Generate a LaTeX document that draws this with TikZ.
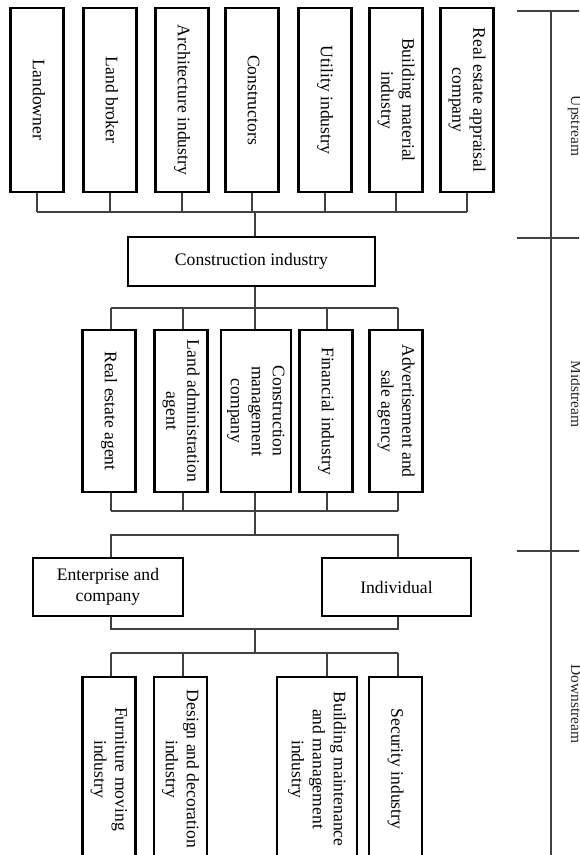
\documentclass[tikz,border=0pt]{standalone}
\usepackage{fontspec}
\setmainfont{Liberation Serif}
\newcommand\vtxt[1]{\rotatebox[origin=c]{-90}{\begin{tabular}{@{}c@{}}#1\end{tabular}}}
\newcommand\htxt[1]{\begin{tabular}{@{}c@{}}#1\end{tabular}}
\tikzset{
  box/.style={draw=black, line width=2.2pt, fill=white, inner sep=0pt, rectangle,
    font=\fontsize{17.6}{21}\selectfont},
  conn/.style={draw=black!75, line width=1.1pt},
  side/.style={rotate=-90, anchor=base, inner sep=0pt, text=black!85,
    font=\fontsize{15.5}{18}\selectfont},
}
\begin{document}
\begin{tikzpicture}[x=1pt,y=-1pt]
\useasboundingbox (0,0) rectangle (579,855);
\clip (0,0) rectangle (579,855);
% top row
\node[box, minimum width=53pt, minimum height=184pt] (t1) at (37,100) {\vtxt{Landowner}};
\node[box, minimum width=53pt, minimum height=184pt] (t2) at (110,100) {\vtxt{Land broker}};
\node[box, minimum width=53pt, minimum height=184pt] (t3) at (182,100) {\vtxt{Architecture industry}};
\node[box, minimum width=53pt, minimum height=184pt] (t4) at (252,100) {\vtxt{Constructors}};
\node[box, minimum width=53pt, minimum height=184pt] (t5) at (325,100) {\vtxt{Utility industry}};
\node[box, minimum width=53pt, minimum height=184pt] (t6) at (396,100) {\vtxt{Building material\\industry}};
\node[box, minimum width=53pt, minimum height=184pt] (t7) at (467,100) {\vtxt{Real estate appraisal\\company}};
% construction industry
\node[box, minimum width=247pt, minimum height=49pt] (ci) at (251.5,261.5) {Construction industry};
% middle row
\node[box, minimum width=53pt, minimum height=162pt] (m1) at (109,411) {\vtxt{Real estate agent}};
\node[box, minimum width=53pt, minimum height=162pt] (m2) at (181,411) {\vtxt{Land administration\\agent}};
\node[box, minimum width=70pt, minimum height=162pt] (m3) at (256,411) {\vtxt{Construction\\management\\company}};
\node[box, minimum width=53pt, minimum height=162pt] (m4) at (326,411) {\vtxt{Financial industry}};
\node[box, minimum width=53pt, minimum height=162pt] (m5) at (396,411) {\vtxt{Advertisement and\\sale agency}};
% customers
\node[box, minimum width=150pt, minimum height=58pt] (ent) at (108,587) {\htxt{Enterprise and\\company}};
\node[box, minimum width=149pt, minimum height=58pt] (ind) at (396.5,587) {Individual};
% bottom row
\node[box, minimum width=53pt, minimum height=184pt] (b1) at (109,769) {\vtxt{Furniture moving\\industry}};
\node[box, minimum width=53pt, minimum height=184pt] (b2) at (180.5,769) {\vtxt{Design and decoration\\industry}};
\node[box, minimum width=80pt, minimum height=184pt] (b3) at (317,769) {\vtxt{Building maintenance\\and management\\industry}};
\node[box, minimum width=53pt, minimum height=184pt] (b4) at (395.5,769) {\vtxt{Security industry}};
% bus coordinates
\coordinate (busA) at (255,212);
\coordinate (busB) at (255,308);
\coordinate (busC) at (255,511);
\coordinate (busD) at (255,535);
\coordinate (busE) at (255,629);
\coordinate (busF) at (255,653);
% top bus
\foreach \n in {t1,t2,t3,t4,t5,t6,t7} \draw[conn] (\n.south) -- (\n.south |- busA);
\draw[conn] (t1.south |- busA) -- (t7.south |- busA);
\draw[conn] (busA) -- (busA |- ci.north);
% middle bus
\draw[conn] (ci.south -| busB) -- (busB);
\coordinate (mL) at (111,308);
\coordinate (mR) at (398,308);
\draw[conn] (mL) -- (mR);
\draw[conn] (mL) -- (mL |- m1.north);
\draw[conn] (183,308) coordinate (s2) -- (s2 |- m2.north);
\draw[conn] (busB) -- (busB |- m3.north);
\draw[conn] (327,308) coordinate (s4) -- (s4 |- m4.north);
\draw[conn] (mR) -- (mR |- m5.north);
% below middle
\coordinate (cL) at (111,511);
\coordinate (cR) at (398,511);
\draw[conn] (cL) -- (cR);
\draw[conn] (cL |- m1.south) -- (cL);
\draw[conn] (183,511) coordinate (u2) (u2 |- m2.south) -- (u2);
\draw[conn] (busC |- m3.south) -- (busC);
\draw[conn] (327,511) coordinate (u4) (u4 |- m4.south) -- (u4);
\draw[conn] (cR |- m5.south) -- (cR);
\draw[conn] (busC) -- (busD);
% customers
\coordinate (dL) at (111,535);
\coordinate (dR) at (398,535);
\draw[conn] (dL |- ent.north) -- (dL) -- (dR) -- (dR |- ind.north);
\coordinate (eL) at (111,629);
\coordinate (eR) at (398,629);
\draw[conn] (eL |- ent.south) -- (eL) -- (eR) -- (eR |- ind.south);
\draw[conn] (busE) -- (busF);
% bottom bus
\coordinate (fL) at (111,653);
\coordinate (fR) at (398,653);
\draw[conn] (fL) -- (fR);
\draw[conn] (fL) -- (fL |- b1.north);
\draw[conn] (183,653) coordinate (v2) -- (v2 |- b2.north);
\draw[conn] (327,653) coordinate (v3) -- (v3 |- b3.north);
\draw[conn] (fR) -- (fR |- b4.north);
% side scale
\coordinate (sTop) at (551,11);
\coordinate (sBot) at (551,860);
\coordinate (k1) at (517,11);
\coordinate (k2) at (517,238);
\coordinate (k3) at (517,551);
\draw[conn] (sTop) -- (sBot);
\draw[conn] (k1) -- ++(70,0);
\draw[conn] (k2) -- ++(70,0);
\draw[conn] (k3) -- ++(70,0);
\node[side] (up) at (571,126) {Upstream};
\node[side] (mid) at (571,394) {Midstream};
\node[side] (down) at (571,704) {Downstream};
\end{tikzpicture}
\end{document}
